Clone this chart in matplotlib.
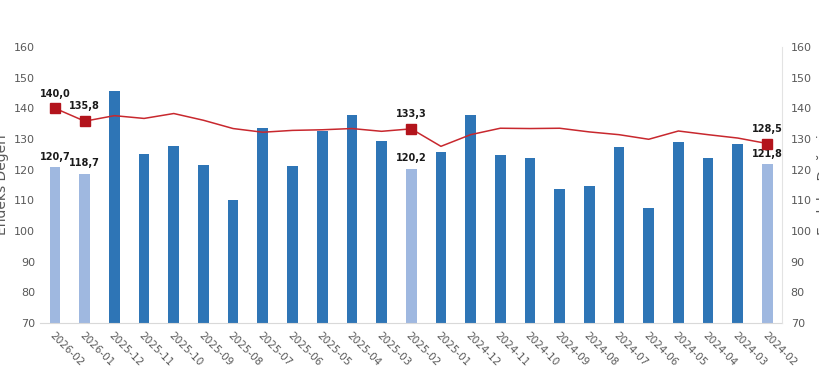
import matplotlib
matplotlib.use("Agg")
from matplotlib import pyplot as plt
import numpy as np

months = ['2024-02', '2024-03', '2024-04', '2024-05', '2024-06', '2024-07',
          '2024-08', '2024-09', '2024-10', '2024-11', '2024-12', '2025-01',
          '2025-02', '2025-03', '2025-04', '2025-05', '2025-06', '2025-07',
          '2025-08', '2025-09', '2025-10', '2025-11', '2025-12', '2026-01',
          '2026-02']
bar_vals = [121.8, 128.5, 123.9, 129.0, 107.5, 127.4, 114.7, 113.7, 123.8,
            124.7, 137.7, 125.8, 120.2, 129.4, 137.9, 132.7, 121.1, 133.6,
            110.0, 121.4, 127.7, 125.1, 145.6, 118.7, 120.7]
line_vals = [128.5, 130.3, 131.4, 132.6, 129.9, 131.4, 132.3, 133.5, 133.4,
             133.5, 131.4, 127.6, 133.3, 132.5, 133.4, 133.0, 132.8, 132.2,
             133.4, 136.1, 138.3, 136.7, 137.6, 135.8, 140.0]
highlight = ['2024-02', '2025-02', '2026-01', '2026-02']
y_ticks = [70, 80, 90, 100, 110, 120, 130, 140, 150, 160]

dark_blue = '#2e75b6'
light_blue = '#9fb8e0'
red = '#b3141c'
grey = '#595959'

fig = plt.figure(figsize=(8.2, 3.67), dpi=100)
ax = fig.add_axes([0.049, 0.12, 0.905, 0.752])
x = np.arange(len(months))
colors = [light_blue if m in highlight else dark_blue for m in months]
ax.bar(x, bar_vals, width=0.36, color=colors, zorder=2)

# red line on the secondary axis, markers only on highlighted months
ax2 = ax.twinx()
ax2.plot(x, line_vals, color='#c8282e', lw=1.1, zorder=3)
hi = [i for i, m in enumerate(months) if m in highlight]
ax2.plot(x[hi], [line_vals[i] for i in hi], ls='none', marker='s',
         ms=7.5, color=red, zorder=4)

def fmt(v):
    return f"{v:.1f}".replace('.', ',')

for i in hi:
    ax.annotate(fmt(bar_vals[i]), (x[i], bar_vals[i]), xytext=(0, 4),
                textcoords='offset points', ha='center', va='bottom',
                fontsize=7, fontweight='bold', color='#1a1a1a')
    ax2.annotate(fmt(line_vals[i]), (x[i], line_vals[i]), xytext=(0, 7),
                 textcoords='offset points', ha='center', va='bottom',
                 fontsize=7, fontweight='bold', color='#1a1a1a')

for a in (ax, ax2):
    a.set_ylim(70, 160)
    a.set_yticks(y_ticks)
    a.set_xlim(24.5, -0.5)
    a.tick_params(length=0, labelsize=8, labelcolor=grey)
    for s in a.spines.values():
        s.set_visible(False)

ax.set_xticks(x)
ax.set_xticklabels(months, rotation=-45, ha='left', va='top',
                   rotation_mode='anchor', fontsize=7.5, color=grey)
ax.tick_params(axis='x', pad=5)
ax.spines['bottom'].set_visible(True)
ax.spines['bottom'].set_color('#d9d9d9')
ax2.spines['right'].set_visible(True)
ax2.spines['right'].set_color('#e3e3e3')
ax2.tick_params(axis='y', pad=6)

ax.set_ylabel('Endeks Değeri', fontsize=10, color=grey, labelpad=4)
ax2.set_ylabel('Endeks Değeri', fontsize=10, color=grey, labelpad=4)

fig.savefig('out.png', dpi=100)
